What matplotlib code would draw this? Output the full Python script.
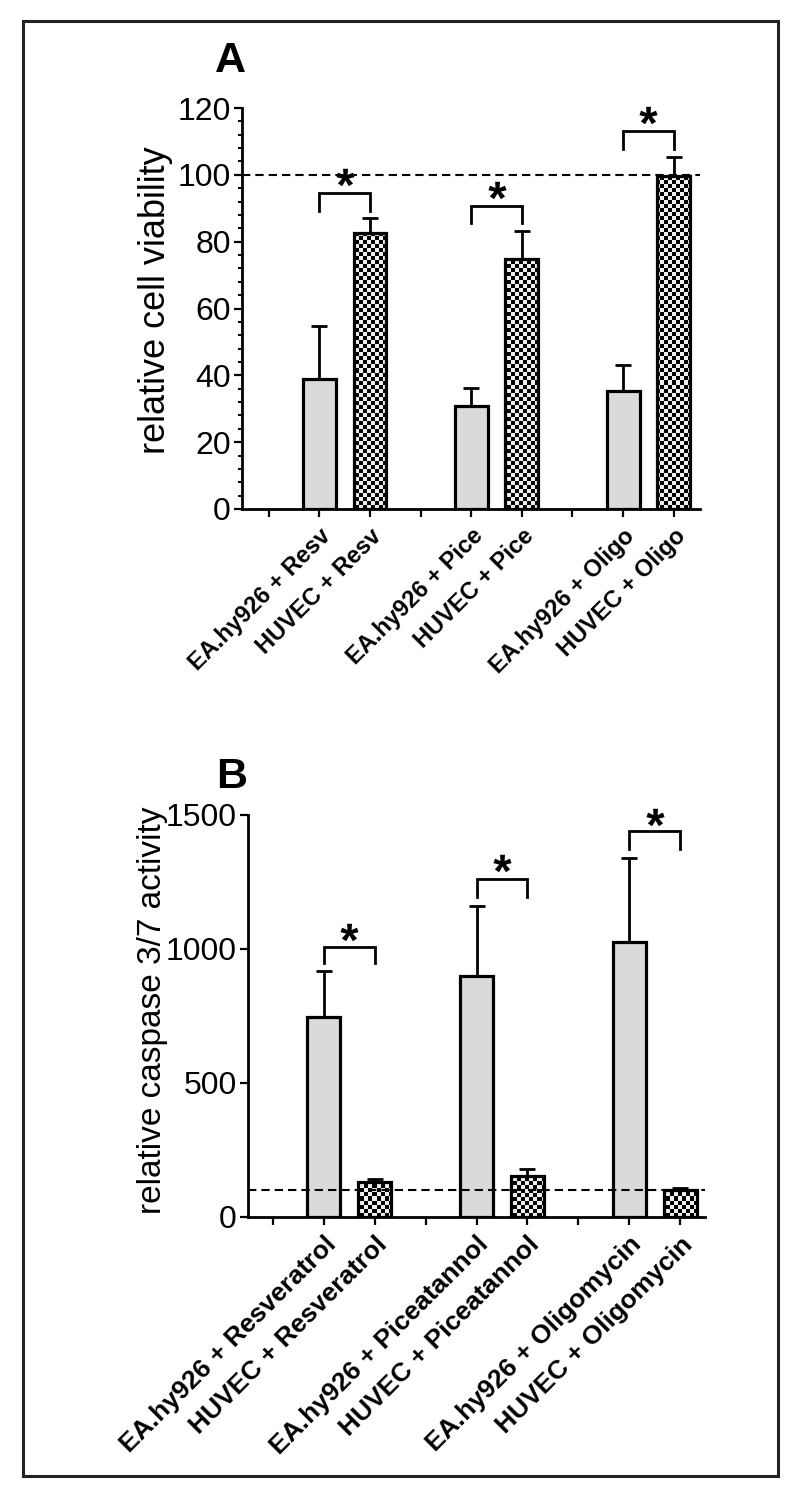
import numpy as np
import matplotlib
matplotlib.use("Agg")
import matplotlib.pyplot as plt
from matplotlib.patches import Rectangle
from matplotlib.textpath import TextPath
from matplotlib.font_manager import FontProperties
from matplotlib.path import Path

plt.rcParams['font.family'] = ['Liberation Sans', 'DejaVu Sans']

# ---------------- data ----------------
labels_a = ["EA.hy926 + Resv", "HUVEC + Resv",
            "EA.hy926 + Pice", "HUVEC + Pice",
            "EA.hy926 + Oligo", "HUVEC + Oligo"]
ea_a = [39.0, 30.9, 35.4]
ea_a_err = [15.8, 5.4, 7.6]
huvec_a = [82.5, 74.7, 99.8]
huvec_a_err = [4.7, 8.5, 5.5]
bracket_a_top = [94.5, 90.8, 113.0]
bracket_a_leg = [89.3, 85.5, 107.6]
star_a = [99.4, 95.6, 118.0]

labels_b = ["EA.hy926 + Resveratrol", "HUVEC + Resveratrol",
            "EA.hy926 + Piceatannol", "HUVEC + Piceatannol",
            "EA.hy926 + Oligomycin", "HUVEC + Oligomycin"]
ea_b = [747, 899, 1027]
ea_b_err = [170, 263, 314]
huvec_b = [131, 152, 102]
huvec_b_err = [10, 28, 6]
bracket_b_top = [1006, 1260, 1440]
bracket_b_leg = [946, 1195, 1375]
star_b = [1064, 1320, 1494]

# ---------------- figure ----------------
fig = plt.figure(figsize=(8, 15), dpi=100)
W, H = 800, 1500

# outer frame
frame = Rectangle((23 / W, 1 - 1476 / H), (778 - 23) / W, (1476 - 21) / H,
                  transform=fig.transFigure, fill=False, lw=2.2,
                  edgecolor='#222222', zorder=0)
fig.patches.append(frame)

ax_a = fig.add_axes([242 / W, 1 - 509 / H, (700 - 242) / W, (509 - 108) / H])
ax_b = fig.add_axes([248 / W, 1 - 1217 / H, (705 - 248) / W, (1217 - 815) / H])

# asterisk marker (centered glyph outline)
tp = TextPath((0, 0), '*', prop=FontProperties(family='Liberation Sans', weight='bold'))
codes = tp.codes
v = tp.vertices.copy()
real = codes != Path.CLOSEPOLY
c = (v[real].min(axis=0) + v[real].max(axis=0)) / 2
v[~real] = c
star_path = Path(v - c, codes)

ea_pos = [1, 4, 7]
hu_pos = [2, 5, 8]
bw = 0.65
gray = '#dadada'


def checker_img(nx, ny):
    yy, xx = np.indices((ny, nx))
    return ((xx + yy) % 2).astype(float)


def draw_panel(ax, ea, ea_err, hu, hu_err, btop, bleg, stars, labels,
               ylim, yticks, xlim, ylabel, ylabsize, minor, label_coords, xlabsize):
    ax.set_xlim(*xlim)
    ax.set_ylim(*ylim)
    # EA bars
    ax.bar(ea_pos, ea, width=bw, color=gray, edgecolor='black', lw=2.3, zorder=3)
    # HUVEC bars (checkerboard)
    bars = ax.bar(hu_pos, hu, width=bw, facecolor='none', edgecolor='black',
                  lw=2.3, zorder=4)
    bbox = ax.get_position()
    pxw = bbox.width * W
    pxh = bbox.height * H
    cell = 4.0
    img = checker_img(int(pxw / cell), int(pxh / cell))
    for b in bars:
        im = ax.imshow(img, extent=[xlim[0], xlim[1], ylim[0], ylim[1]],
                       cmap=matplotlib.colors.ListedColormap(['black', '#eeeeee']),
                       interpolation='nearest', aspect='auto', zorder=3.5,
                       origin='lower')
        im.set_clip_path(b)
    ax.set_xlim(*xlim)
    ax.set_ylim(*ylim)
    # error bars (upper only)
    ax.errorbar(ea_pos, ea, yerr=[np.zeros(3), ea_err], fmt='none',
                ecolor='black', elinewidth=2.0, capsize=6, capthick=2.0, zorder=2)
    ax.errorbar(hu_pos, hu, yerr=[np.zeros(3), hu_err], fmt='none',
                ecolor='black', elinewidth=2.0, capsize=6, capthick=2.0, zorder=2)
    # reference line
    ax.axhline(100, color='black', lw=1.5, ls=(0, (4, 2.4)), zorder=5)
    # brackets and stars
    for i in range(3):
        x1, x2 = ea_pos[i], hu_pos[i]
        ax.plot([x1, x1, x2, x2], [bleg[i], btop[i], btop[i], bleg[i]],
                color='black', lw=2.0, solid_joinstyle='miter', clip_on=False, zorder=6)
        ax.plot([(x1 + x2) / 2], [stars[i]], marker=star_path, ms=13,
                color='black', mec='none', ls='none', clip_on=False, zorder=6)
    # axes styling
    for s in ['top', 'right']:
        ax.spines[s].set_visible(False)
    for s in ['left', 'bottom']:
        ax.spines[s].set_linewidth(2.0)
    ax.set_yticks(yticks)
    ax.tick_params(axis='y', which='major', direction='out', length=6, width=1.6,
                   labelsize=23, pad=2)
    if minor:
        ax.set_yticks(minor, minor=True)
        ax.tick_params(axis='y', which='minor', direction='out', length=3, width=1.4)
    ax.set_xticks(range(9))
    ax.set_xticklabels(['', labels[0], labels[1], '', labels[2], labels[3],
                        '', labels[4], labels[5]])
    ax.tick_params(axis='x', direction='out', length=6, width=1.6, pad=5)
    for t in ax.get_xticklabels():
        t.set_rotation(45)
        t.set_ha('right')
        t.set_va('top')
        t.set_rotation_mode('anchor')
        t.set_fontweight('bold')
        t.set_fontsize(xlabsize)
    ax.set_ylabel(ylabel, fontsize=ylabsize)
    ax.yaxis.set_label_coords(*label_coords)
    ax.patch.set_alpha(0)


draw_panel(ax_a, ea_a, ea_a_err, huvec_a, huvec_a_err, bracket_a_top,
           bracket_a_leg, star_a, labels_a, (0, 120), [0, 20, 40, 60, 80, 100, 120],
           (-0.53, 8.52), 'relative cell viability', 26,
           [v for v in range(0, 121, 4) if v % 20 != 0], (-0.150, 0.52), 17)

draw_panel(ax_b, ea_b, ea_b_err, huvec_b, huvec_b_err, bracket_b_top,
           bracket_b_leg, star_b, labels_b, (0, 1500), [0, 500, 1000, 1500],
           (-0.49, 8.49), 'relative caspase 3/7 activity', 24, None,
           (-0.175, 0.515), 19)

fig.text(230 / W, 1 - 72 / H, 'A', fontsize=31, fontweight='bold',
         ha='center', va='baseline')
fig.text(232 / W, 1 - 788 / H, 'B', fontsize=31, fontweight='bold',
         ha='center', va='baseline')

fig.savefig('out.png', dpi=100)
